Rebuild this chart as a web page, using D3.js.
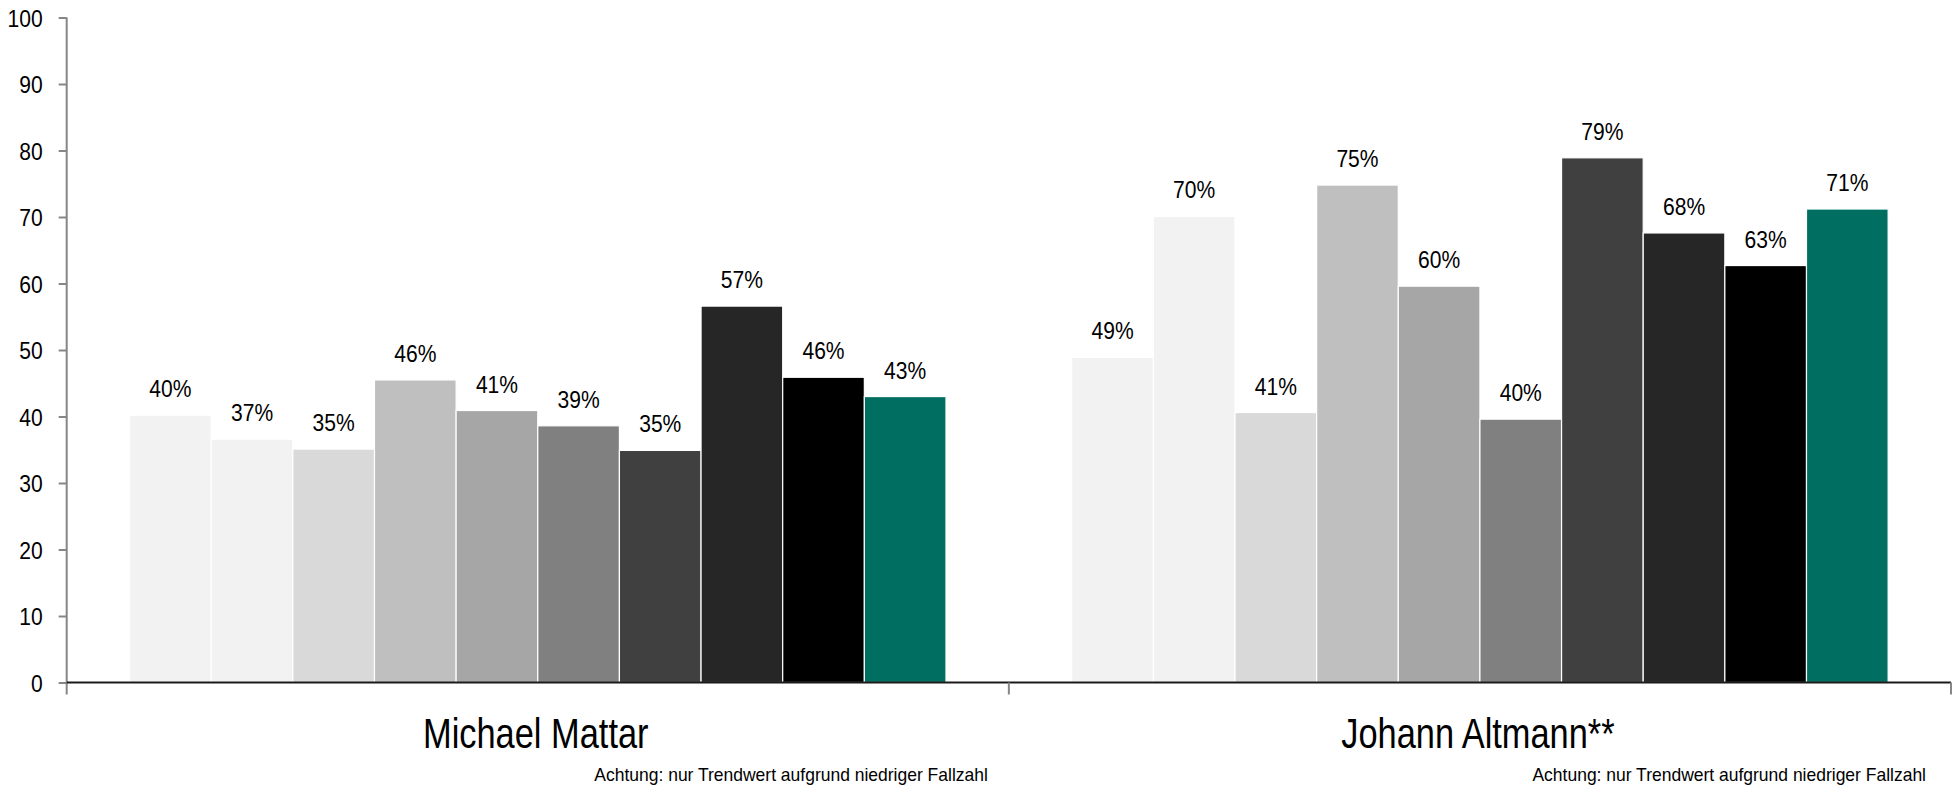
<!DOCTYPE html>
<html>
<head>
<meta charset="utf-8">
<script src="https://cdn.jsdelivr.net/npm/d3@7"></script>
<style>
  html, body { margin: 0; padding: 0; background: #fff; }
  svg { display: block; font-family: "Liberation Sans", Arial, sans-serif; }
</style>
</head>
<body>
<svg id="chart" width="1956" height="794"></svg>
<script>
// ---- data ----
const categories = ["Michael Mattar", "Johann Altmann**"];
const seriesNames = ["Reihe 1", "Reihe 2", "Reihe 3", "Reihe 4", "Reihe 5", "Reihe 6", "Reihe 7", "Reihe 8", "Reihe 9", "Reihe 10"];
const valuesMattar  = [40.2, 36.6, 35.1, 45.5, 40.9, 38.6, 34.9, 56.6, 45.9, 43.0];
const valuesAltmann = [48.9, 70.1, 40.6, 74.8, 59.6, 39.6, 78.9, 67.6, 62.7, 71.2];
const seriesColors = ["#f2f2f2", "#f2f2f2", "#d9d9d9", "#bfbfbf", "#a6a6a6", "#808080", "#404040", "#262626", "#000000", "#006f62"];
const yTicks = [0, 10, 20, 30, 40, 50, 60, 70, 80, 90, 100];
const footnotes = ["Achtung: nur Trendwert aufgrund niedriger Fallzahl", "Achtung: nur Trendwert aufgrund niedriger Fallzahl"];

const valuesByCategory = [valuesMattar, valuesAltmann];

// ---- layout ----
const svg = d3.select("#chart");
const mLeft = 66.7, mRight = 1951, mTop = 17.5, mBottom = 682.5;

const y = d3.scaleLinear().domain([0, 100]).range([mBottom, mTop]);
const x0 = d3.scaleBand().domain(categories).range([mLeft, mRight]).padding(0);
const x1 = d3.scaleBand().domain(seriesNames).range([0, x0.bandwidth()])
  .paddingInner(0).paddingOuter(0.77);
const color = d3.scaleOrdinal().domain(seriesNames).range(seriesColors);
const fmt = v => d3.format(".0f")(v) + "%";

// ---- bars ----
const groups = svg.append("g").selectAll("g")
  .data(categories)
  .join("g")
  .attr("transform", d => `translate(${x0(d)},0)`);

groups.selectAll("rect")
  .data((d, ci) => valuesByCategory[ci].map((v, i) => ({ s: seriesNames[i], v })))
  .join("rect")
  .attr("x", d => x1(d.s))
  .attr("y", d => y(d.v))
  .attr("width", x1.bandwidth())
  .attr("height", d => y(0) - y(d.v))
  .attr("fill", d => color(d.s))
  .attr("stroke", "#ffffff")
  .attr("stroke-width", 1.2);

groups.selectAll("text.val")
  .data((d, ci) => valuesByCategory[ci].map((v, i) => ({ s: seriesNames[i], v })))
  .join("text")
  .attr("class", "val")
  .attr("transform", d => `translate(${x1(d.s) + x1.bandwidth() / 2},${y(d.v) - 18}) scale(0.86,1)`)
  .attr("text-anchor", "middle")
  .attr("font-size", 24.5)
  .attr("fill", "#000")
  .text(d => fmt(d.v));

// ---- y axis ----
const yAxis = svg.append("g")
  .attr("transform", `translate(${mLeft},0)`)
  .call(d3.axisLeft(y).tickValues(yTicks).tickSize(8).tickSizeOuter(0));
yAxis.select(".domain").remove();
yAxis.append("line")
  .attr("x1", 0).attr("x2", 0)
  .attr("y1", mTop).attr("y2", mBottom + 12)
  .attr("stroke", "#868686").attr("stroke-width", 2);
yAxis.selectAll(".tick line").attr("stroke", "#868686").attr("stroke-width", 2);
yAxis.selectAll(".tick text")
  .attr("x", null)
  .attr("dy", "0.35em")
  .attr("transform", "translate(-24,0) scale(0.86,1)")
  .attr("font-size", 24.5)
  .attr("font-family", "Liberation Sans, Arial, sans-serif")
  .attr("fill", "#000");

// ---- x axis ----
const xAxis = svg.append("g").attr("transform", `translate(0,${mBottom})`);
xAxis.append("line")
  .attr("x1", mLeft).attr("x2", mRight)
  .attr("y1", 0).attr("y2", 0)
  .attr("stroke", "#1a1a1a").attr("stroke-width", 2);
const boundaries = categories.map(c => x0(c)).concat([x0(categories[categories.length - 1]) + x0.bandwidth()]);
xAxis.selectAll("line.bt")
  .data(boundaries.slice(1))
  .join("line")
  .attr("class", "bt")
  .attr("x1", d => d).attr("x2", d => d)
  .attr("y1", 0).attr("y2", 12)
  .attr("stroke", "#868686").attr("stroke-width", 2);

xAxis.selectAll("text.cat")
  .data(categories)
  .join("text")
  .attr("class", "cat")
  .attr("transform", d => `translate(${x0(d) + x0.bandwidth() / 2 - 2},${748.3 - mBottom}) scale(0.8,1)`)
  .attr("text-anchor", "middle")
  .attr("font-size", 43)
  .attr("fill", "#000")
  .text(d => d);

xAxis.selectAll("text.note")
  .data(categories)
  .join("text")
  .attr("class", "note")
  .attr("transform", (d, i) => `translate(${x0(d) + x0.bandwidth() - (i === 0 ? 21 : 25)},${780.5 - mBottom}) scale(0.94,1)`)
  .attr("text-anchor", "end")
  .attr("font-size", 18.6)
  .attr("fill", "#000")
  .text((d, i) => footnotes[i]);
</script>
</body>
</html>
